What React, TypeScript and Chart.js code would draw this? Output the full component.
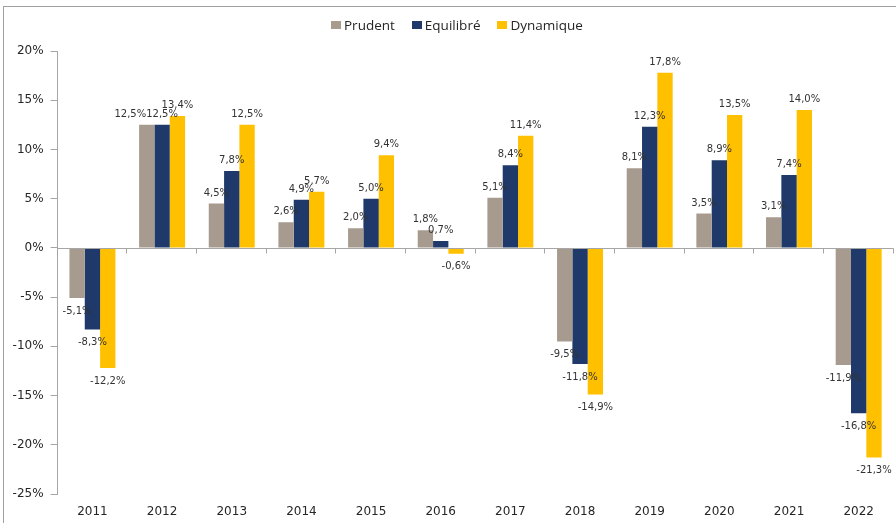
import React, { useEffect, useRef } from "react";
import { Chart, registerables } from "chart.js";

Chart.register(...registerables);

const categories = ["2011", "2012", "2013", "2014", "2015", "2016", "2017", "2018", "2019", "2020", "2021", "2022"];
const prudent = [-5.1, 12.5, 4.5, 2.6, 2.0, 1.8, 5.1, -9.5, 8.1, 3.5, 3.1, -11.9];
const equilibre = [-8.3, 12.5, 7.8, 4.9, 5.0, 0.7, 8.4, -11.8, 12.3, 8.9, 7.4, -16.8];
const dynamique = [-12.2, 13.4, 12.5, 5.7, 9.4, -0.6, 11.4, -14.9, 17.8, 13.5, 14.0, -21.3];
const seriesNames = ["Prudent", "Equilibré", "Dynamique"];
const seriesColors = ["#A69B8E", "#1F3A6A", "#FFC000"];
const yMin = -25;
const yMax = 20;
const yStep = 5;

const fmt = (v: number) => v.toFixed(1).replace(".", ",") + "%";

const zeroAxisPlugin = {
  id: "zeroAxis",
  afterDatasetsDraw(chart: any) {
    const { ctx, chartArea, scales } = chart;
    const y0 = Math.round(scales.y.getPixelForValue(0)) + 0.5;
    ctx.save();
    ctx.strokeStyle = "#A6A6A6";
    ctx.lineWidth = 1;
    ctx.beginPath();
    ctx.moveTo(chartArea.left, y0);
    ctx.lineTo(chartArea.right, y0);
    const n = categories.length;
    const w = (chartArea.right - chartArea.left) / n;
    for (let i = 1; i <= n; i++) {
      const x = Math.round(chartArea.left + i * w) - 0.5;
      ctx.moveTo(x, y0);
      ctx.lineTo(x, y0 + 5);
    }
    ctx.stroke();
    ctx.restore();
  },
};

const labelPlugin = {
  id: "valueLabels",
  afterDatasetsDraw(chart: any) {
    const { ctx } = chart;
    ctx.save();
    ctx.font = "10px 'DejaVu Sans'";
    ctx.fillStyle = "#333333";
    ctx.textAlign = "center";
    ctx.textBaseline = "middle";
    const nDs = chart.data.datasets.length;
    for (let i = 0; i < categories.length; i++) {
      const items: any[] = [];
      for (let d = 0; d < nDs; d++) {
        const meta = chart.getDatasetMeta(d);
        const el = meta.data[i];
        const v = chart.data.datasets[d].data[i] as number;
        const text = fmt(v);
        const w = ctx.measureText(text).width;
        const y = v >= 0 ? el.y - 10.5 : el.y + 13;
        items.push({ x: el.x, y, w, text });
      }
      for (let d = nDs - 2; d >= 0; d--) {
        const a = items[d];
        const b = items[d + 1];
        if (Math.abs(a.y - b.y) < 4) {
          const overlap = a.x + a.w / 2 - (b.x - b.w / 2);
          if (overlap > 0) a.x -= overlap;
        }
      }
      items.forEach((it) => ctx.fillText(it.text, it.x, it.y));
    }
    ctx.restore();
  },
};

export default function App() {
  const ref = useRef<HTMLCanvasElement>(null);
  useEffect(() => {
    if (!ref.current) return;
    const data = [prudent, equilibre, dynamique];
    const chart = new Chart(ref.current, {
      type: "bar",
      data: {
        labels: categories,
        datasets: data.map((d, k) => ({
          label: seriesNames[k],
          data: d,
          backgroundColor: seriesColors[k],
          borderWidth: 0,
          categoryPercentage: 0.66,
          barPercentage: 1.0,
        })),
      },
      options: {
        animation: false,
        responsive: false,
        maintainAspectRatio: false,
        layout: { padding: { top: 51, left: 0, right: 2.5, bottom: 0 } },
        plugins: {
          legend: { display: false },
          tooltip: { enabled: false },
          title: { display: false },
        },
        scales: {
          x: {
            grid: { display: false, drawTicks: false },
            border: { display: false },
            ticks: {
              padding: 11,
              color: "#262626",
              font: { family: "'DejaVu Sans'", size: 12 },
              maxRotation: 0,
            },
            afterFit(scale: any) {
              scale.height = 29;
            },
          },
          y: {
            min: yMin,
            max: yMax,
            grid: {
              display: true,
              drawOnChartArea: false,
              drawTicks: true,
              tickLength: 7,
              color: "#A6A6A6",
            },
            border: { display: true, color: "#A6A6A6" },
            ticks: {
              stepSize: yStep,
              padding: 7,
              color: "#262626",
              font: { family: "'DejaVu Sans'", size: 12 },
              callback: (v: any) => v + "%",
            },
            afterFit(scale: any) {
              scale.width = 57.6;
            },
          },
        },
      },
      plugins: [zeroAxisPlugin, labelPlugin],
    } as any);
    return () => chart.destroy();
  }, []);

  return (
    <div style={{ position: "absolute", left: 0, top: 0, width: 896, height: 523, background: "#fff", overflow: "hidden" }}>
      <div
        style={{
          position: "absolute",
          left: 3,
          top: 6,
          width: 893,
          height: 517,
          borderTop: "1px solid #A0A0A0",
          borderLeft: "1px solid #A0A0A0",
          boxSizing: "border-box",
        }}
      />
      <canvas ref={ref} width={896} height={523} style={{ position: "absolute", left: 0, top: 0 }} />
      <div
        style={{
          position: "absolute",
          top: 17,
          left: 331,
          height: 16,
          display: "flex",
          alignItems: "center",
          fontFamily: "'Open Sans', sans-serif",
          fontSize: 13.5,
          color: "#262626",
          whiteSpace: "nowrap",
        }}
      >
        {seriesNames.map((n, k) => (
          <span key={n} style={{ display: "flex", alignItems: "center", marginRight: 17 }}>
            <span style={{ display: "inline-block", width: 10, height: 8, background: seriesColors[k], marginRight: 3 }} />
            {n}
          </span>
        ))}
      </div>
    </div>
  );
}
